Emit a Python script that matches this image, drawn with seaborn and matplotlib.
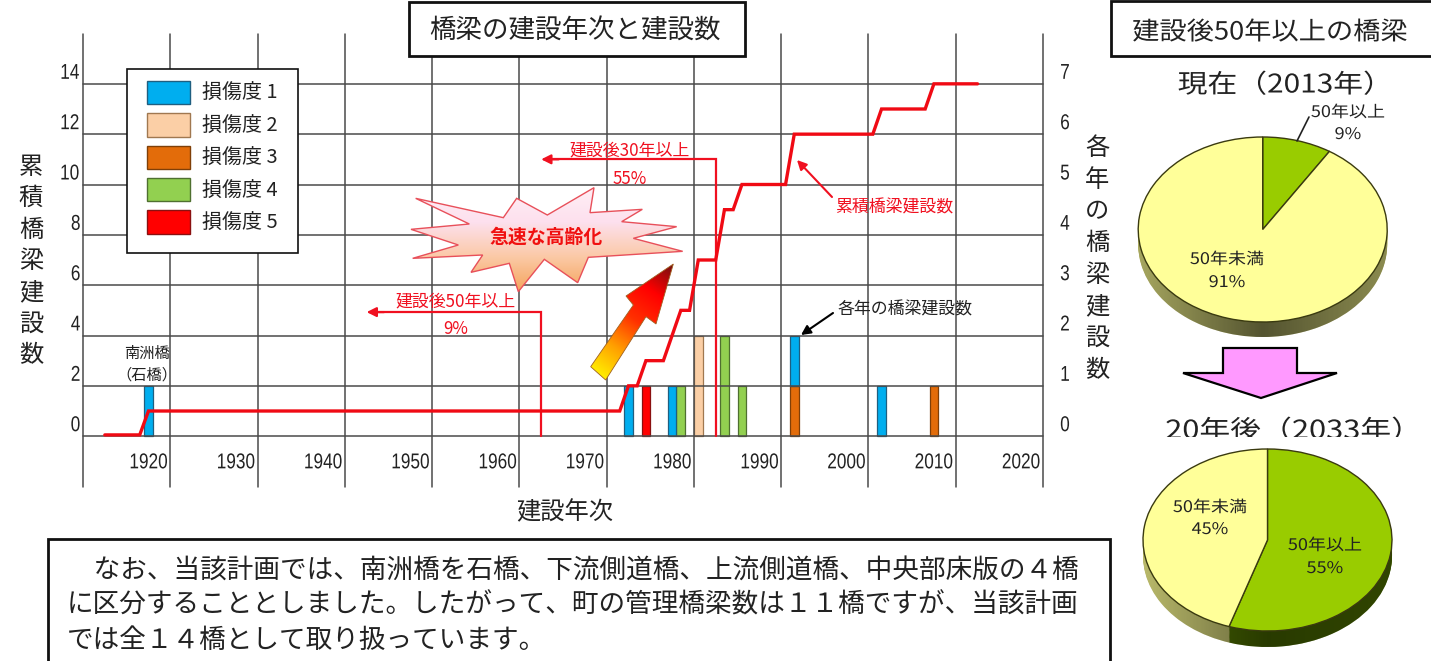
"""橋梁の建設年次と建設数 + 建設後50年以上の橋梁(円グラフ2つ)."""

import matplotlib.pyplot as plt
import numpy as np
import pandas as pd
import seaborn as sns
from matplotlib.colors import LinearSegmentedColormap, to_hex
from matplotlib.patches import Ellipse, Patch, Polygon, Rectangle
from matplotlib.patheffects import AbstractPathEffect
from matplotlib.transforms import Affine2D

sns.set_theme(style="white")
plt.rcParams["font.family"] = ["Noto Sans CJK JP", "DejaVu Sans"]
LATIN = ["Liberation Sans", "DejaVu Sans"]

W, H = 1431, 661

# 各年の橋梁建設数(損傷度別)
bar_years = [1920, 1975, 1977, 1980, 1981, 1983, 1986, 1988, 1994, 1994, 2004, 2010]
bar_counts = [1, 1, 1, 1, 1, 2, 2, 1, 1, 1, 1, 1]
bar_levels = [1, 1, 5, 1, 4, 2, 4, 4, 3, 1, 1, 3]

# 累積橋梁建設数
cum_years = [1915, 1919, 1920, 1974, 1975, 1976, 1977, 1979, 1980, 1981, 1982, 1983,
             1985, 1986, 1987, 1988, 1993, 1994, 2003, 2004, 2009, 2010, 2015]
cum_values = [0.05, 0.05, 1, 1, 2, 2, 3, 3, 4, 5, 5, 7, 7, 9, 9, 10, 10, 12, 12, 13, 13, 14, 14]

level_names = ["損傷度 1", "損傷度 2", "損傷度 3", "損傷度 4", "損傷度 5"]
level_colors = ["#00aeef", "#fbcfa6", "#e36c0a", "#92d050", "#ff0000"]
level_edges = ["#1f5f80", "#a07850", "#7f3f08", "#4f7030", "#8a1010"]

decade_labels = [1920, 1930, 1940, 1950, 1960, 1970, 1980, 1990, 2000, 2010, 2020]
decade_edges = [1912.5, 1922.5, 1932.5, 1942.5, 1952.5, 1962.5, 1972.5,
                1982.5, 1992.5, 2002.5, 2012.5, 2022.5]
left_ticks = [0, 2, 4, 6, 8, 10, 12, 14]
right_ticks = [0, 1, 2, 3, 4, 5, 6, 7]

pie_now = [9, 91]
pie_later = [55, 45]
pie_colors = ["#99CC00", "#FFFF99"]
pie_sides = ["#4A6A00", "#B9B96A"]

note_lines = [
    "　なお、当該計画では、南洲橋を石橋、下流側道橋、上流側道橋、中央部床版の４橋",
    "に区分することとしました。したがって、町の管理橋梁数は１１橋ですが、当該計画",
    "では全１４橋として取り扱っています。",
]

RED = "#F01020"
GRID = "#4A4A4A"
INK = "#222222"


class Stretch(AbstractPathEffect):
    """文字列を中心まわりに横方向へ伸縮する(元図の長体/平体の文字用)."""

    def __init__(self, sx):
        super().__init__()
        self.sx = sx

    def draw_path(self, renderer, gc, tpath, affine, rgbFace=None):
        ext = tpath.get_extents()
        cx = (ext.x0 + ext.x1) / 2
        squeeze = Affine2D().translate(-cx, 0).scale(self.sx, 1).translate(cx, 0)
        renderer.draw_path(gc, tpath, squeeze + affine, rgbFace)


def px_rect(left, top, right, bottom):
    """ピクセル座標 → figure 比率の矩形."""
    return [left / W, 1 - bottom / H, (right - left) / W, (bottom - top) / H]


def gradient_fill(ax, poly, colors, along=None, zorder=3):
    """ポリゴンをグラデーションで塗る(imshow + clip)."""
    pts = np.asarray(poly)
    x0, x1, y0, y1 = pts[:, 0].min(), pts[:, 0].max(), pts[:, 1].min(), pts[:, 1].max()
    xx, yy = np.meshgrid(np.linspace(x0, x1, 200), np.linspace(y0, y1, 200))
    if along is not None:
        (ax_, ay_), (bx_, by_) = along
        grad = ((xx - ax_) * (bx_ - ax_) + (yy - ay_) * (by_ - ay_)) / (
            (bx_ - ax_) ** 2 + (by_ - ay_) ** 2
        )
    else:
        grad = (yy - y0) / (y1 - y0)
    cmap = LinearSegmentedColormap.from_list("g", colors)
    im = ax.imshow(
        np.clip(grad, 0, 1), extent=(x0, x1, y1, y0), cmap=cmap, vmin=0, vmax=1,
        aspect="auto", zorder=zorder, interpolation="bilinear",
    )
    patch = Polygon(pts, closed=True, transform=ax.transData, fc="none", ec="none")
    ax.add_patch(patch)
    im.set_clip_path(patch)
    return im


def draw_pie(fig, values, cx, cy, rx, ry, depth, shade):
    """楕円に潰した ax.pie + 側面."""
    d = depth / ry
    pie_ax = fig.add_axes(
        px_rect(cx - 1.06 * rx, cy - 1.06 * ry, cx + 1.06 * rx, cy + 1.06 * ry + depth),
        zorder=1,
    )
    for off in np.linspace(d, 0.01, 14):
        pie_ax.pie(values, colors=pie_sides, startangle=90, counterclock=False,
                   center=(0, -off), radius=1,
                   wedgeprops={"linewidth": 0, "zorder": 1})
    # 側面の陰影
    xs = np.linspace(-1, 1, 300)[None, :]
    rgba = np.zeros((1, 300, 4))
    rgba[..., 3] = np.interp(xs, [-1, 0.0, 1], shade)
    im = pie_ax.imshow(rgba, extent=(-1, 1, -1 - d, 1), aspect="auto", zorder=1.5)
    clip = Ellipse((0, -d), 2, 2, transform=pie_ax.transData, fc="none", ec="none")
    pie_ax.add_patch(clip)
    im.set_clip_path(clip)
    pie_ax.pie(values, colors=pie_colors, startangle=90, counterclock=False,
               wedgeprops={"linewidth": 1.0, "edgecolor": "#3A3A10", "zorder": 2})
    pie_ax.set_aspect("auto")
    pie_ax.set_xlim(-1.06, 1.06)
    pie_ax.set_ylim(-1.06 - d, 1.06)
    pie_ax.axis("off")
    return pie_ax


fig = plt.figure(figsize=(W / 100, H / 100), dpi=100, facecolor="white")

# --- 棒グラフ(右軸)と累積線(左軸) ---
ax = fig.add_axes(px_rect(83, 33.5, 1043, 486.5), zorder=2)
ax2 = ax.twinx()
ax.set_zorder(2)
ax2.set_zorder(1)
ax.patch.set_visible(False)

df_bars = pd.DataFrame({"year": bar_years, "count": bar_counts, "level": bar_levels})
sns.histplot(
    data=df_bars, x="year", weights="count", hue="level", hue_order=[1, 2, 3, 4, 5],
    multiple="stack", discrete=True, shrink=1.0, palette=level_colors, alpha=1,
    linewidth=0.9, legend=False, ax=ax2,
)
face_to_edge = dict(zip(level_colors, level_edges))
for p in ax2.patches:
    if p.get_height() == 0:
        p.set_visible(False)
    else:
        p.set_edgecolor(face_to_edge[to_hex(p.get_facecolor())])

df_cum = pd.DataFrame({"year": cum_years, "total": cum_values})
sns.lineplot(data=df_cum, x="year", y="total", color="#F00A14", linewidth=2.4,
             errorbar=None, ax=ax, zorder=4, solid_joinstyle="miter")

ax.set_xlim(decade_edges[0], decade_edges[-1])
ax.set_ylim(-2, 16)
ax2.set_ylim(-1, 8)

ax.set_xticks(decade_edges)
ax.set_xticklabels([])
ax.set_xticks(decade_labels, [str(y) for y in decade_labels], minor=True)
ax.set_yticks(left_ticks)
ax2.set_yticks(right_ticks)
ax2.set_xlabel("")

ax.grid(True, which="major", color=GRID, linewidth=1.1, zorder=0)
ax.set_axisbelow(True)
for gl in ax.get_xgridlines() + ax.get_ygridlines():
    gl.set_clip_on(False)
ax.tick_params(axis="x", which="both", length=0)
ax.tick_params(axis="x", which="minor", pad=-24.6, labelsize=15.5, labelcolor=INK)
ax.tick_params(axis="y", length=0, pad=1, labelsize=15.5, labelcolor=INK)
ax2.tick_params(axis="y", length=0, pad=11.5, labelsize=15.5, labelcolor=INK)
for lab in ax.get_xticklabels(minor=True) + ax.get_yticklabels() + ax2.get_yticklabels():
    lab.set_family(LATIN)
    lab.set_path_effects([Stretch(0.8)])
for lab in ax.get_yticklabels() + ax2.get_yticklabels():
    lab.set_va("bottom")
for a in (ax, ax2):
    for s in a.spines.values():
        s.set_visible(False)

ax.set_xlabel("建設年次", fontsize=17.5, color=INK)
ax.xaxis.set_label_coords(0.502, -0.058)
ax.xaxis.label.set_va("center")
ax.set_ylabel("\n".join("累積橋梁建設数"), rotation=0, fontsize=17.5, color=INK,
              linespacing=1.27, va="center", ha="center")
ax.yaxis.set_label_coords((31 - 83) / 960, (486.5 - 261) / 453)
ax2.set_ylabel("\n".join("各年の橋梁建設数"), rotation=0, fontsize=17.5, color=INK,
               linespacing=1.28, va="center", ha="center")
ax2.yaxis.set_label_coords((1097 - 83) / 960, (486.5 - 259) / 453)

# 建設後50年/30年のライン
for year, level, back in [(1965, 4.93, 1945), (1985, 11.0, 1965)]:
    ax.plot([year, year, back + 1], [0, level, level], color=RED, linewidth=1.6, zorder=3,
            solid_joinstyle="miter")
    ax.annotate("", xy=(back, level), xytext=(back + 2, level), zorder=3,
                arrowprops={"arrowstyle": "-|>", "color": RED, "lw": 1.6,
                            "mutation_scale": 14, "shrinkA": 0, "shrinkB": 0})

# 凡例(枠は余白を上下左右別にしたいので別に描く)
ax.add_patch(Rectangle((127 / W, 1 - 253 / H), 171 / W, 184 / H, transform=fig.transFigure,
                       fc="white", ec="#111111", lw=1.2, zorder=5, clip_on=False))
handles = [Patch(facecolor=c, edgecolor=e, linewidth=1.0)
           for c, e in zip(level_colors, level_edges)]
leg = ax.legend(
    handles, level_names, loc="upper left",
    bbox_to_anchor=((147 - 83) / 960, (486.5 - 81) / 453), borderaxespad=0, borderpad=0,
    fontsize=14.4, frameon=False, handlelength=2.15, handleheight=1.42, labelspacing=0.45,
    handletextpad=0.6, labelcolor=INK,
)
leg.set_zorder(6)

# --- 円グラフ ---
draw_pie(fig, pie_now, 1262.7, 229.5, 124.5, 92.5, 15, [0.1, 0.55, 0.25])
draw_pie(fig, pie_later, 1267.5, 540, 124.5, 91, 16, [0.0, 0.45, 0.35])

# --- 装飾(ピクセル座標のオーバーレイ) ---
deco = fig.add_axes([0, 0, 1, 1], zorder=3)
deco.set_xlim(0, W)
deco.set_ylim(H, 0)
deco.axis("off")
deco.patch.set_visible(False)

star_zoom = [(47, 85), (310, 143), (350, 85), (442, 135), (582, 53), (570, 128), (727, 118),
             (665, 155), (830, 170), (700, 205), (848, 244), (565, 262), (533, 338),
             (433, 268), (355, 365), (328, 280), (213, 307), (248, 255), (38, 265),
             (175, 225), (33, 178), (208, 162)]
star = [(400 + x / 3, 170 + y / 3) for x, y in star_zoom]
gradient_fill(deco, star, ["#FFEFF5", "#FDE0EE", "#FBC9A6", "#F5A55C"], zorder=2)
deco.add_patch(Polygon(star, closed=True, fc="none", ec="#E8505A", lw=1.0, zorder=2.1))

arrow_zoom = [(572, 590), (700, 405), (678, 378), (820, 282), (768, 462), (738, 440), (617, 630)]
arrow = [(400 + x / 3, 170 + y / 3) for x, y in arrow_zoom]
gradient_fill(deco, arrow, ["#FFF200", "#FFA000", "#FF3000", "#FF0000", "#701010"],
              along=((595, 375), (673, 264)), zorder=2)
deco.add_patch(Polygon(arrow, closed=True, fc="none", ec="#A06020", lw=0.6, zorder=2.1))

deco.add_patch(Polygon([(1223, 348), (1297, 348), (1297, 373), (1337, 373), (1261, 398),
                        (1183, 373), (1223, 373)], closed=True, fc="#FF99FF", ec="black",
                       lw=1.6, zorder=2))


def label(x, y, s, size, color=INK, sx=None, **kw):
    t = deco.text(x, y + 1.5, s, fontsize=size, color=color, ha="center", va="center",
                  zorder=5, **kw)
    if sx is not None:
        t.set_path_effects([Stretch(sx)])
    return t


def box(left, top, right, bottom, lw=2.0):
    deco.add_patch(Rectangle((left, top), right - left, bottom - top, fc="white",
                             ec="#111111", lw=lw, zorder=4))


box(409, 2, 745, 56)
label(575, 30, "橋梁の建設年次と建設数", 19.1)
box(1111, 1, 1440, 56)
label(1270, 31, "建設後50年以上の橋梁", 18, sx=1.09)
label(1284, 84, "現在（2013年）", 18.5, sx=1.16)
label(1292, 430, "20年後（2033年）", 18.5, sx=1.2)
deco.add_patch(Rectangle((1150, 437), 270, 11, fc="white", ec="none", zorder=5.5))

label(1348, 111, "50年以上", 11.5, sx=1.13)
label(1348, 133, "9%", 11.5, sx=1.13)
deco.plot([1309, 1297], [117, 141], color=INK, lw=1.2, zorder=3)
label(1227, 258, "50年未満", 11.5, sx=1.13)
label(1227, 281, "91%", 11.5, sx=1.13)
label(1210, 506, "50年未満", 11.5, sx=1.13)
label(1210, 528, "45%", 11.5, sx=1.13)
label(1325, 544, "50年以上", 11.5, sx=1.13)
label(1325, 567, "55%", 11.5, sx=1.13)

label(630, 149, "建設後30年以上", 12.2, color=RED)
label(630, 177, "55%", 12.2, color=RED)
label(456, 300, "建設後50年以上", 12.2, color=RED)
label(456, 327, "9%", 12.2, color=RED)
label(894, 206, "累積橋梁建設数", 12.2, color=RED)
deco.annotate("", xy=(797, 160), xytext=(832, 197), zorder=5,
              arrowprops={"arrowstyle": "-|>", "color": RED, "lw": 1.5,
                          "mutation_scale": 14, "shrinkA": 0, "shrinkB": 0})
label(905, 308, "各年の橋梁建設数", 12.2)
deco.annotate("", xy=(801, 335), xytext=(833, 313), zorder=5,
              arrowprops={"arrowstyle": "-|>", "color": "black", "lw": 1.5,
                          "mutation_scale": 14, "shrinkA": 0, "shrinkB": 0})
label(147, 352, "南洲橋", 11)
label(147, 374, "（石橋）", 11)
label(546, 236, "急速な高齢化", 13.6, color="#F01010", fontweight="bold")

box(48, 539, 1110, 700)
for y, line in zip([570, 605, 640], note_lines):
    deco.text(67, y, line, fontsize=19.15, color=INK, ha="left", va="center", zorder=5)

deco.set_xlim(0, W)
deco.set_ylim(H, 0)

fig.savefig("out.png", dpi=100)
